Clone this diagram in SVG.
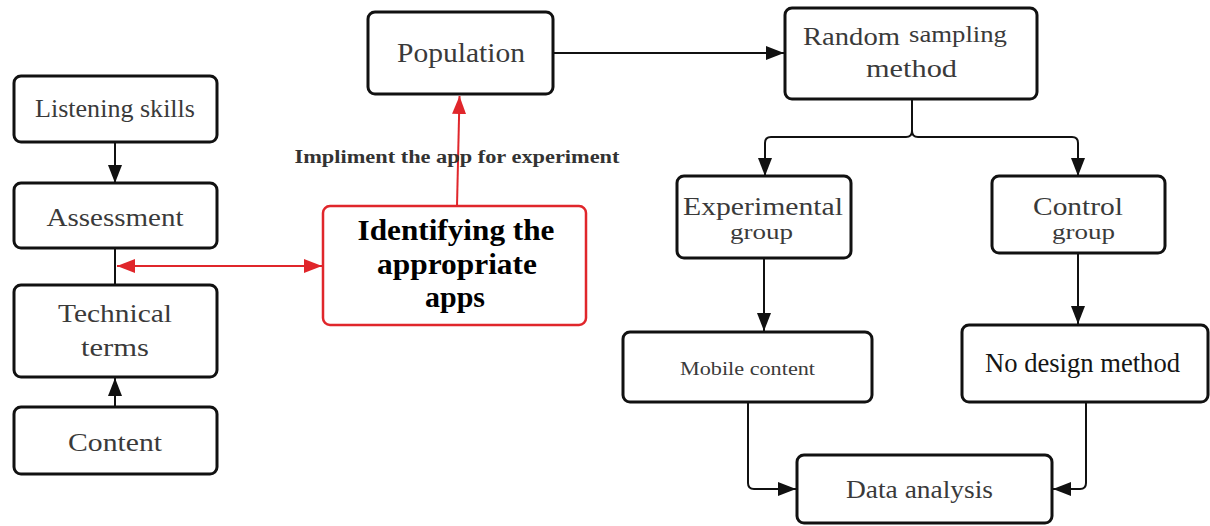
<svg xmlns="http://www.w3.org/2000/svg" width="1210" height="526" viewBox="0 0 1210 526">
  <style>
    .box { fill: #ffffff; stroke: #111111; stroke-width: 3; }
    .box-red { fill: #ffffff; stroke: #e0262b; stroke-width: 2.5; }
    .lbl { font-family: "Liberation Serif", "Times New Roman", serif; fill: #3a3a3a; text-anchor: middle; }
    .lbl-dark { font-family: "Liberation Serif", "Times New Roman", serif; fill: #151515; text-anchor: middle; }
    .lbl-bold { font-family: "Liberation Serif", "Times New Roman", serif; font-weight: bold; fill: #000000; text-anchor: middle; }
    .edge-label { font-family: "Liberation Serif", "Times New Roman", serif; font-weight: bold; fill: #333333; text-anchor: middle; }
    .wire { fill: none; stroke: #111111; stroke-width: 2; }
    .wire-red { fill: none; stroke: #e0262b; stroke-width: 2; }
  </style>
  <defs>
    <marker id="arrow" markerUnits="userSpaceOnUse" markerWidth="18" markerHeight="14" refX="18" refY="7" orient="auto-start-reverse">
      <path d="M0,0 L18,7 L0,14 z" fill="#111111"/>
    </marker>
    <marker id="arrow-red" markerUnits="userSpaceOnUse" markerWidth="18" markerHeight="14" refX="18" refY="7" orient="auto-start-reverse">
      <path d="M0,0 L18,7 L0,14 z" fill="#e0262b"/>
    </marker>
  </defs>

  <rect width="1210" height="526" fill="#ffffff"/>

  <!-- connectors -->
  <g id="connectors">
    <line class="wire" x1="115" y1="142" x2="115" y2="183" marker-end="url(#arrow)"/>
    <line class="wire" x1="115" y1="248" x2="115" y2="285"/>
    <line class="wire" x1="115" y1="407" x2="115" y2="378" marker-end="url(#arrow)"/>
    <line class="wire-red" x1="117" y1="266" x2="322" y2="266" marker-start="url(#arrow-red)" marker-end="url(#arrow-red)"/>
    <line class="wire-red" x1="457" y1="206" x2="459.5" y2="96" marker-end="url(#arrow-red)"/>
    <text class="edge-label" x="457" y="163" font-size="18" textLength="325" lengthAdjust="spacingAndGlyphs">Impliment the app for experiment</text>
    <line class="wire" x1="553" y1="53" x2="784" y2="53" marker-end="url(#arrow)"/>
    <path class="wire" d="M912,99 V131 Q912,137 906,137 H771 Q765,137 765,143 V176" marker-end="url(#arrow)"/>
    <path class="wire" d="M912,131 Q912,137 918,137 H1072 Q1078,137 1078,143 V176" marker-end="url(#arrow)"/>
    <line class="wire" x1="764" y1="258" x2="764" y2="331" marker-end="url(#arrow)"/>
    <line class="wire" x1="1078" y1="253" x2="1078" y2="324" marker-end="url(#arrow)"/>
    <path class="wire" d="M748,402 V483 Q748,489 754,489 H796" marker-end="url(#arrow)"/>
    <path class="wire" d="M1086,402 V483 Q1086,489 1080,489 H1053" marker-end="url(#arrow)"/>
  </g>

  <!-- left column -->
  <g id="listening-skills">
    <rect class="box" x="14" y="76" width="203" height="66" rx="7"/>
    <text class="lbl" x="115" y="117" font-size="26" textLength="160" lengthAdjust="spacingAndGlyphs">Listening skills</text>
  </g>
  <g id="assessment">
    <rect class="box" x="14" y="183" width="203" height="65" rx="7"/>
    <text class="lbl" x="115" y="226" font-size="26" textLength="137" lengthAdjust="spacingAndGlyphs">Assessment</text>
  </g>
  <g id="technical-terms">
    <rect class="box" x="14" y="285" width="203" height="92" rx="7"/>
    <text class="lbl" x="115" y="322" font-size="26" textLength="114" lengthAdjust="spacingAndGlyphs">Technical</text>
    <text class="lbl" x="115" y="356" font-size="26" textLength="68" lengthAdjust="spacingAndGlyphs">terms</text>
  </g>
  <g id="content">
    <rect class="box" x="14" y="407" width="203" height="67" rx="7"/>
    <text class="lbl" x="115" y="451" font-size="26" textLength="94" lengthAdjust="spacingAndGlyphs">Content</text>
  </g>

  <!-- middle -->
  <g id="population">
    <rect class="box" x="368" y="12" width="185" height="82" rx="7"/>
    <text class="lbl" x="461" y="62" font-size="27" textLength="128" lengthAdjust="spacingAndGlyphs">Population</text>
  </g>
  <g id="identifying-apps">
    <rect class="box-red" x="323" y="206" width="263" height="119" rx="7"/>
    <text class="lbl-bold" x="456" y="240" font-size="29" textLength="197" lengthAdjust="spacingAndGlyphs">Identifying the</text>
    <text class="lbl-bold" x="457" y="274" font-size="29" textLength="160" lengthAdjust="spacingAndGlyphs">appropriate</text>
    <text class="lbl-bold" x="455" y="307" font-size="29" textLength="60" lengthAdjust="spacingAndGlyphs">apps</text>
  </g>

  <!-- right side -->
  <g id="random-sampling">
    <rect class="box" x="785" y="8" width="252" height="91" rx="7"/>
    <text class="lbl" x="851.5" y="45" font-size="26" textLength="97" lengthAdjust="spacingAndGlyphs">Random</text>
    <text class="lbl" x="958" y="42" font-size="23" textLength="98" lengthAdjust="spacingAndGlyphs">sampling</text>
    <text class="lbl" x="911.5" y="77" font-size="26" textLength="91" lengthAdjust="spacingAndGlyphs">method</text>
  </g>
  <g id="experimental-group">
    <rect class="box" x="677" y="176" width="174" height="82" rx="7"/>
    <text class="lbl" x="763" y="215" font-size="26" textLength="160" lengthAdjust="spacingAndGlyphs">Experimental</text>
    <text class="lbl" x="761.5" y="239" font-size="22" textLength="63" lengthAdjust="spacingAndGlyphs">group</text>
  </g>
  <g id="control-group">
    <rect class="box" x="992" y="176" width="173" height="77" rx="7"/>
    <text class="lbl" x="1078" y="215" font-size="26" textLength="90" lengthAdjust="spacingAndGlyphs">Control</text>
    <text class="lbl" x="1083.5" y="239" font-size="22" textLength="63" lengthAdjust="spacingAndGlyphs">group</text>
  </g>
  <g id="mobile-content">
    <rect class="box" x="623" y="332" width="249" height="70" rx="7"/>
    <text class="lbl" x="747.5" y="375" font-size="19" textLength="135" lengthAdjust="spacingAndGlyphs">Mobile content</text>
  </g>
  <g id="no-design-method">
    <rect class="box" x="962" y="325" width="246" height="77" rx="7"/>
    <text class="lbl-dark" x="1082.5" y="372" font-size="27" textLength="195" lengthAdjust="spacingAndGlyphs">No design method</text>
  </g>
  <g id="data-analysis">
    <rect class="box" x="797" y="455" width="255" height="68" rx="7"/>
    <text class="lbl" x="919.5" y="498" font-size="26" textLength="147" lengthAdjust="spacingAndGlyphs">Data analysis</text>
  </g>
</svg>
